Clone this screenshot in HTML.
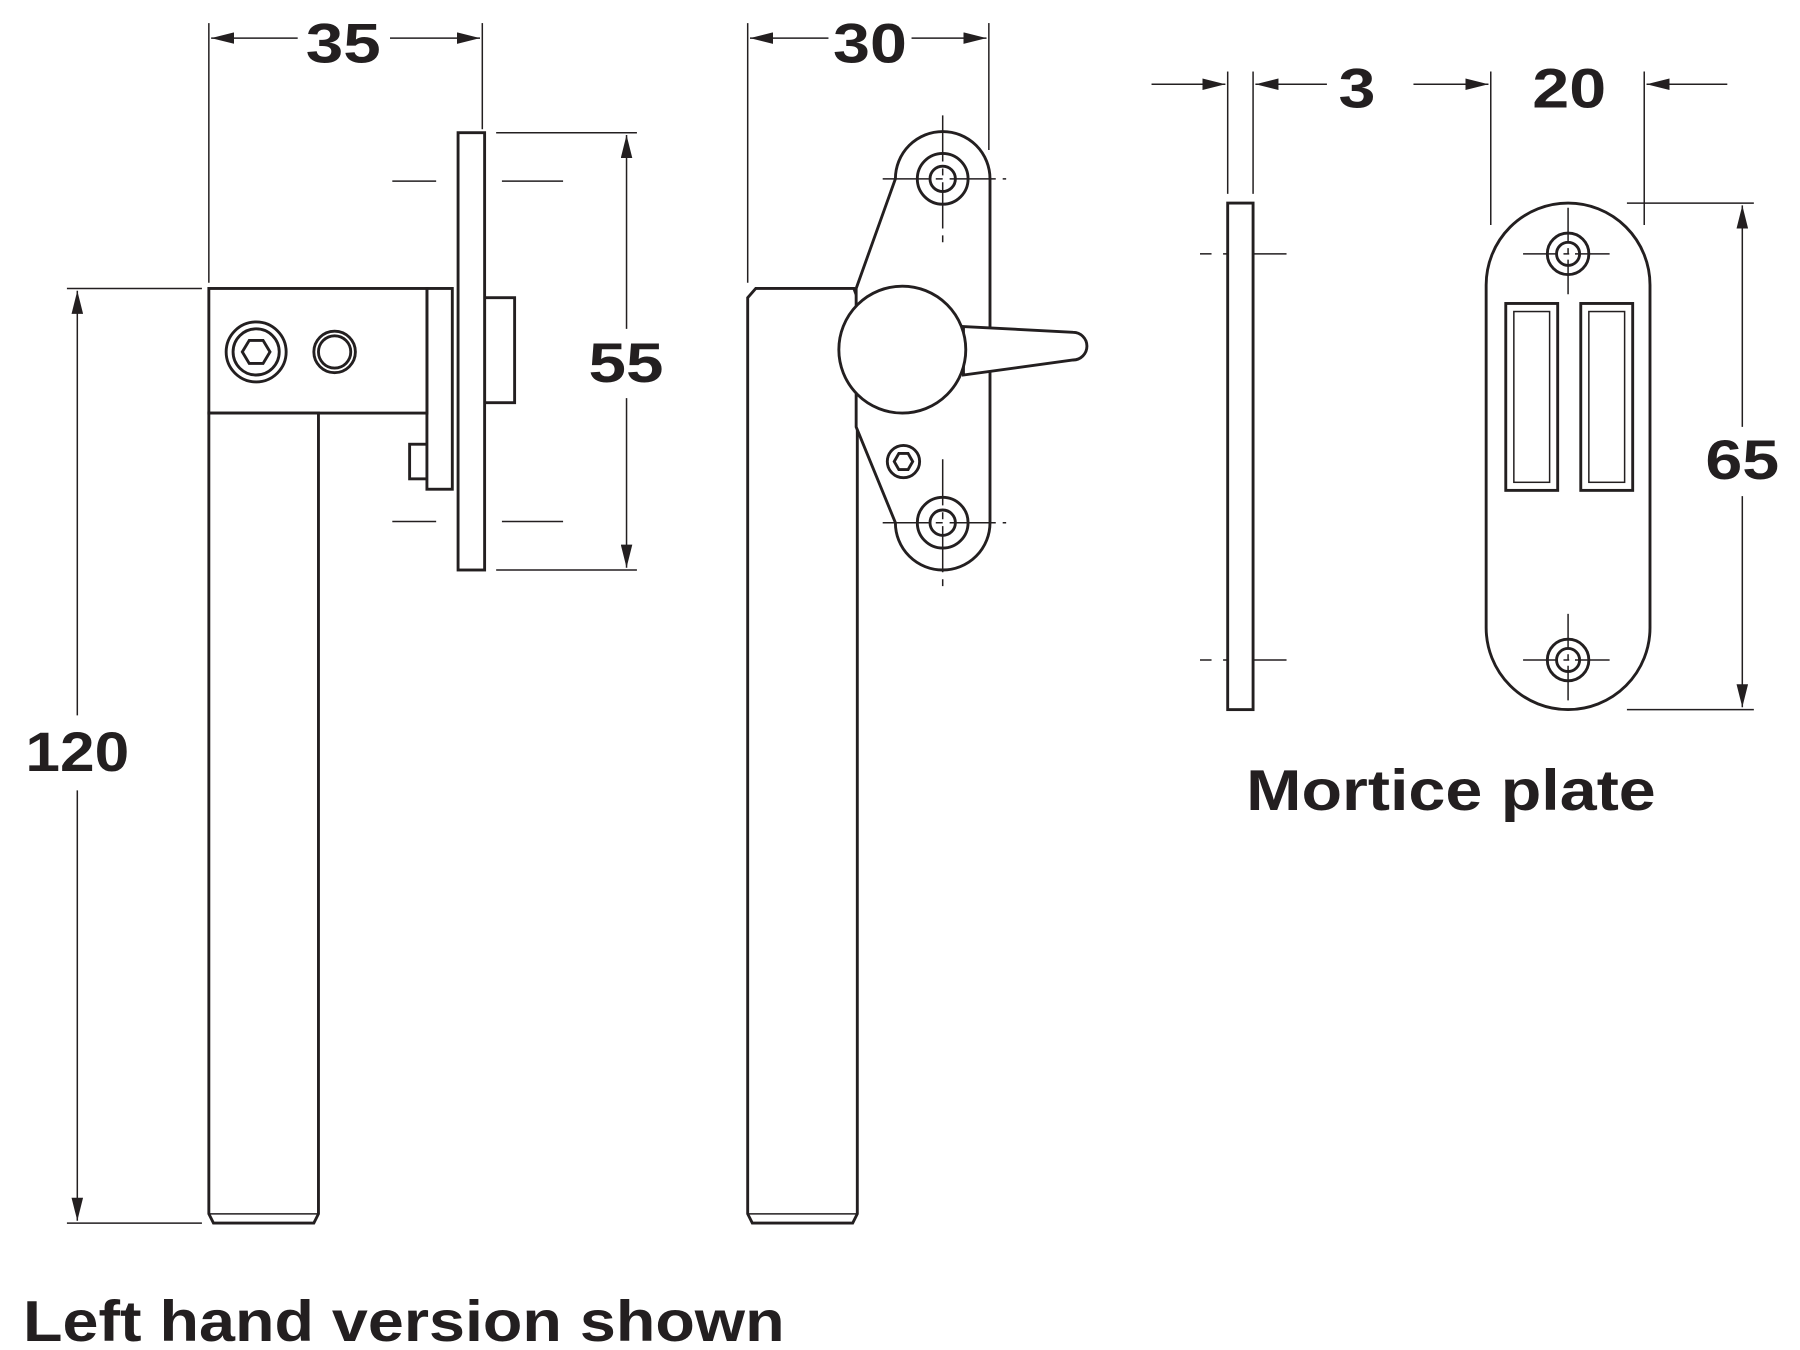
<!DOCTYPE html>
<html><head><meta charset="utf-8"><style>
html,body{margin:0;padding:0;background:#fff;}
svg{display:block}
text{font-family:"Liberation Sans",sans-serif;font-weight:bold;fill:#231f20}
</style></head><body>
<svg width="1800" height="1350" viewBox="0 0 1560 1170" preserveAspectRatio="none" xmlns="http://www.w3.org/2000/svg">
<defs>
<marker id="a" viewBox="0 0 20 10" refX="20" refY="5" markerWidth="20" markerHeight="10" markerUnits="userSpaceOnUse" orient="auto-start-reverse"><path d="M0,0 L20,5 L0,10 z" fill="#231f20"/></marker>
</defs>
<g stroke="#231f20" fill="none" stroke-width="1.3">
<line x1="181" y1="20" x2="181" y2="245"/><line x1="418" y1="20" x2="418" y2="112"/>
<line x1="183" y1="33" x2="258" y2="33" marker-start="url(#a)"/><line x1="338" y1="33" x2="416" y2="33" marker-end="url(#a)"/>
<line x1="430" y1="115" x2="552" y2="115"/><line x1="430" y1="494" x2="552" y2="494"/>
<line x1="543" y1="117" x2="543" y2="285" marker-start="url(#a)"/><line x1="543" y1="345" x2="543" y2="492" marker-end="url(#a)"/>
<line x1="58" y1="250" x2="175" y2="250"/><line x1="58" y1="1060" x2="175" y2="1060"/>
<line x1="67" y1="252" x2="67" y2="620" marker-start="url(#a)"/><line x1="67" y1="685" x2="67" y2="1058" marker-end="url(#a)"/>
<line x1="340" y1="157" x2="378" y2="157"/><line x1="435" y1="157" x2="488" y2="157"/>
<line x1="340" y1="452" x2="378" y2="452"/><line x1="435" y1="452" x2="488" y2="452"/>
</g>
<g stroke="#231f20" fill="#fff" stroke-width="2.5">
<rect x="420" y="258" width="26" height="91"/>
<rect x="355" y="385" width="16" height="30"/>
<rect x="397" y="115" width="23" height="379"/>
<rect x="370" y="250" width="22" height="174"/>
<rect x="181" y="250" width="189" height="108"/>
<path d="M181,358 H276 V1052 L272,1060 H185 L181,1052 Z"/>
<line x1="181" y1="1052" x2="276" y2="1052" stroke-width="1.3"/>
<circle cx="222" cy="305" r="26"/><circle cx="222" cy="305" r="20"/>
<polygon points="234,305 228,315 216,315 210,305 216,295 228,295"/>
<circle cx="290" cy="305" r="18"/><circle cx="290" cy="305" r="14"/>
</g>
<g stroke="#231f20" fill="none" stroke-width="1.3">
<line x1="648" y1="20" x2="648" y2="245"/><line x1="857" y1="20" x2="857" y2="130"/>
<line x1="650" y1="33" x2="718" y2="33" marker-start="url(#a)"/><line x1="790" y1="33" x2="855" y2="33" marker-end="url(#a)"/>
</g>
<g stroke="#231f20" fill="#fff" stroke-width="2.5">
<path d="M648,258 L655,250 H740 L743,258 V1052 L739,1060 H652 L648,1052 Z"/>
<line x1="648" y1="1052" x2="743" y2="1052" stroke-width="1.3"/>
<path d="M776,155 A41,41 0 0 1 858,155 V453 A41,41 0 0 1 776,453 L742,370 L742,250 Z"/>
<path d="M835,283 L930,288 A12,12 0 0 1 930,312 L835,325 Z"/>
<circle cx="782" cy="303" r="55"/>
<circle cx="783" cy="400" r="14"/>
<polygon points="791,400 787,407 779,407 775,400 779,393 787,393"/>
<circle cx="817" cy="155" r="22"/><circle cx="817" cy="155" r="11"/>
<circle cx="817" cy="453" r="22"/><circle cx="817" cy="453" r="11"/>
</g>
<g stroke="#231f20" fill="none" stroke-width="1.3">
<line x1="817" y1="100" x2="817" y2="210" stroke-dasharray="40,6,6,6"/><line x1="765" y1="155" x2="872" y2="155" stroke-dasharray="40,6,6,6"/>
<line x1="817" y1="398" x2="817" y2="508" stroke-dasharray="40,6,6,6"/><line x1="765" y1="453" x2="872" y2="453" stroke-dasharray="40,6,6,6"/>
</g>
<g stroke="#231f20" fill="none" stroke-width="1.3">
<line x1="1064" y1="62" x2="1064" y2="168"/><line x1="1086" y1="62" x2="1086" y2="168"/>
<line x1="998" y1="73" x2="1062" y2="73" marker-end="url(#a)"/><line x1="1150" y1="73" x2="1088" y2="73" marker-end="url(#a)"/>
<line x1="1040" y1="220" x2="1050" y2="220"/><line x1="1060" y1="220" x2="1115" y2="220"/>
<line x1="1040" y1="572" x2="1050" y2="572"/><line x1="1060" y1="572" x2="1115" y2="572"/>
<line x1="1292" y1="62" x2="1292" y2="195"/><line x1="1425" y1="62" x2="1425" y2="195"/>
<line x1="1225" y1="73" x2="1290" y2="73" marker-end="url(#a)"/><line x1="1497" y1="73" x2="1427" y2="73" marker-end="url(#a)"/>
<line x1="1410" y1="176" x2="1520" y2="176"/><line x1="1410" y1="615" x2="1520" y2="615"/>
<line x1="1510" y1="178" x2="1510" y2="370" marker-start="url(#a)"/><line x1="1510" y1="430" x2="1510" y2="613" marker-end="url(#a)"/>
</g>
<g stroke="#231f20" fill="#fff" stroke-width="2.5">
<rect x="1064" y="176" width="22" height="439"/>
<rect x="1288" y="176" width="142" height="439" rx="71" ry="71"/>
<rect x="1305" y="263" width="45" height="162"/><rect x="1312" y="270" width="31" height="148" stroke-width="1.3"/>
<rect x="1370" y="263" width="45" height="162"/><rect x="1377" y="270" width="31" height="148" stroke-width="1.3"/>
<circle cx="1359" cy="220" r="18"/><circle cx="1359" cy="220" r="10"/>
<circle cx="1359" cy="572" r="18"/><circle cx="1359" cy="572" r="10"/>
</g>
<g stroke="#231f20" fill="none" stroke-width="1.3">
<line x1="1359" y1="180" x2="1359" y2="260" stroke-dasharray="30,5,5,5"/><line x1="1320" y1="220" x2="1398" y2="220" stroke-dasharray="30,5,5,5"/>
<line x1="1359" y1="532" x2="1359" y2="612" stroke-dasharray="30,5,5,5"/><line x1="1320" y1="572" x2="1398" y2="572" stroke-dasharray="30,5,5,5"/>
</g>
<text x="265" y="54" font-size="48" textLength="65" lengthAdjust="spacingAndGlyphs">35</text>
<text x="510" y="331" font-size="48" textLength="65" lengthAdjust="spacingAndGlyphs">55</text>
<text x="22" y="668" font-size="48" textLength="90" lengthAdjust="spacingAndGlyphs">120</text>
<text x="722" y="54" font-size="48" textLength="64" lengthAdjust="spacingAndGlyphs">30</text>
<text x="1160" y="93" font-size="48" textLength="32" lengthAdjust="spacingAndGlyphs">3</text>
<text x="1328" y="93" font-size="48" textLength="64" lengthAdjust="spacingAndGlyphs">20</text>
<text x="1478" y="415" font-size="48" textLength="64" lengthAdjust="spacingAndGlyphs">65</text>
<text x="1080" y="702" font-size="50" textLength="355" lengthAdjust="spacingAndGlyphs">Mortice plate</text>
<text x="20" y="1162" font-size="50" textLength="660" lengthAdjust="spacingAndGlyphs">Left hand version shown</text>
</svg>
</body></html>
